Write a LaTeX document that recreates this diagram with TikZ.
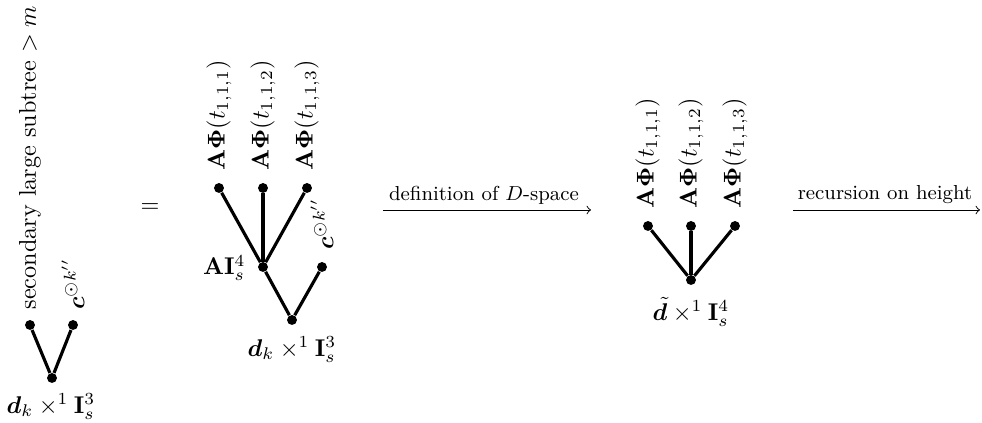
\documentclass[tikz,border=0pt]{standalone}
\usepackage{amsmath,bm}
\begin{document}
\begin{tikzpicture}[x=0.413pt,y=-0.413pt,
  dot/.style={circle,fill=black,inner sep=0pt,minimum size=4.1pt},
  edge/.style={line width=1.3pt},
  rlab/.style={rotate=90,anchor=west,inner sep=0pt},
  blab/.style={anchor=north,inner sep=0pt},
  arr/.style={->,line width=0.4pt},
  alab/.style={font=\small,scale=0.93,inner sep=0pt}
]
\useasboundingbox (0,0) rectangle (982,423);
% tree 1
\node[dot] (t1a) at (30,325) {};
\node[dot] (t1b) at (73,325) {};
\node[dot] (t1r) at (52,378) {};
\draw[edge] (t1a) -- (t1r);
\draw[edge] (t1b) -- (t1r);
\node[rlab] (t1al) at (30,310) {secondary large subtree $>m$};
\node[rlab] (t1bl) at (73,310) {$\boldsymbol{c}^{\odot k''}$};
\node[blab] (t1rl) at (51,393) {$\boldsymbol{d}_k\times^1\mathbf{I}_s^3$};
% equals
\node (eq) at (150,208) {$=$};
% tree 2
\node[dot] (t2a) at (219,188) {};
\node[dot] (t2b) at (263,188) {};
\node[dot] (t2c) at (307,188) {};
\node[dot] (t2m) at (263,267) {};
\node[dot] (t2d) at (322,267) {};
\node[dot] (t2r) at (292,320) {};
\draw[edge] (t2a) -- (t2m);
\draw[edge] (t2b) -- (t2m);
\draw[edge] (t2c) -- (t2m);
\draw[edge] (t2m) -- (t2r);
\draw[edge] (t2d) -- (t2r);
\node[rlab] (t2al) at (219,171) {$\mathbf{A}\boldsymbol{\Phi}(t_{1,1,1})$};
\node[rlab] (t2bl) at (263,171) {$\mathbf{A}\boldsymbol{\Phi}(t_{1,1,2})$};
\node[rlab] (t2cl) at (307,171) {$\mathbf{A}\boldsymbol{\Phi}(t_{1,1,3})$};
\node[rlab] (t2dl) at (322,250) {$\boldsymbol{c}^{\odot k''}$};
\node[anchor=east,inner sep=0pt] (t2ml) at (246,268) {$\mathbf{A}\mathbf{I}_s^4$};
\node[blab] (t2rl) at (292,336) {$\boldsymbol{d}_k\times^1\mathbf{I}_s^3$};
% arrow 1
\coordinate (a1s) at (383,210);
\coordinate (a1e) at (591,210);
\draw[arr] (a1s) -- (a1e);
\node[alab] (a1l) at (484,195) {definition of $D$-space};
% tree 3
\node[dot] (t3a) at (648,226) {};
\node[dot] (t3b) at (691,226) {};
\node[dot] (t3c) at (735,226) {};
\node[dot] (t3r) at (691,280) {};
\draw[edge] (t3a) -- (t3r);
\draw[edge] (t3b) -- (t3r);
\draw[edge] (t3c) -- (t3r);
\node[rlab] (t3al) at (648,209) {$\mathbf{A}\boldsymbol{\Phi}(t_{1,1,1})$};
\node[rlab] (t3bl) at (691,209) {$\mathbf{A}\boldsymbol{\Phi}(t_{1,1,2})$};
\node[rlab] (t3cl) at (735,209) {$\mathbf{A}\boldsymbol{\Phi}(t_{1,1,3})$};
\node[blab] (t3rl) at (691,297) {$\tilde{\boldsymbol{d}}\times^1\mathbf{I}_s^4$};
% arrow 2
\coordinate (a2s) at (793,210);
\coordinate (a2e) at (980,210);
\draw[arr] (a2s) -- (a2e);
\node[alab] (a2l) at (885,195) {recursion on height};
\end{tikzpicture}
\end{document}
